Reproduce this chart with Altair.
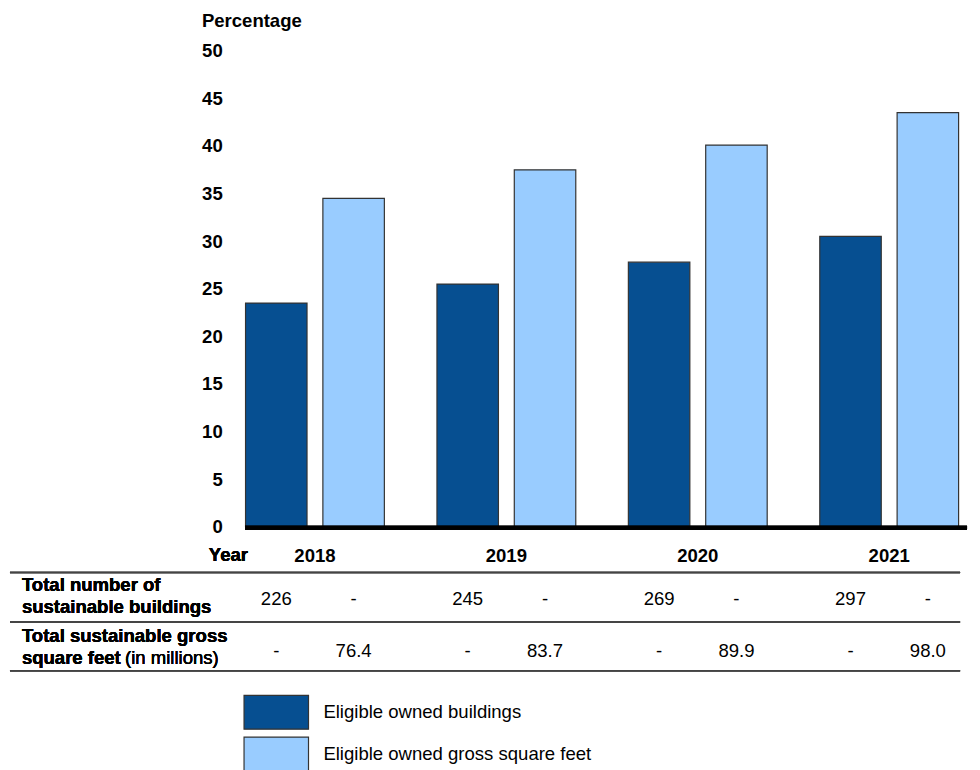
import altair as alt
import pandas as pd

# ---- data ----
years = ["2018", "2019", "2020", "2021"]
series = ["Eligible owned buildings", "Eligible owned gross square feet"]
buildings_pct = [23.5, 25.5, 27.8, 30.5]
sqft_pct = [34.5, 37.5, 40.1, 43.5]
buildings_count = ["226", "245", "269", "297"]
sqft_millions = ["76.4", "83.7", "89.9", "98.0"]
y_ticks = [0, 5, 10, 15, 20, 25, 30, 35, 40, 45, 50]

DARK = "#064f91"
LIGHT = "#99ccff"
FONT = "Liberation Sans"
FS = 18.7

rows = []
for i, yr in enumerate(years):
    rows.append({"year": yr, "series": series[0], "value": buildings_pct[i],
                 "row1": buildings_count[i], "row2": "-"})
    rows.append({"year": yr, "series": series[1], "value": sqft_pct[i],
                 "row1": "-", "row2": sqft_millions[i]})
df = pd.DataFrame(rows)
df_years = pd.DataFrame({"year": years})
df_series = pd.DataFrame({"series": series})

x_enc = alt.X("year:N", sort=years, axis=None,
              scale=alt.Scale(range=[-27, 745], paddingInner=0, paddingOuter=0))
xoff_enc = alt.XOffset("series:N", sort=series,
                       scale=alt.Scale(paddingInner=0.205, paddingOuter=0.34))
color_scale = alt.Scale(domain=series, range=[DARK, LIGHT])

base = alt.Chart(df)

bars = base.mark_bar(stroke="#333333", strokeWidth=1.2).encode(
    x=x_enc,
    xOffset=xoff_enc,
    y=alt.Y("value:Q",
            scale=alt.Scale(domain=[0, 50], nice=False),
            axis=alt.Axis(values=y_ticks, grid=False, domain=False, ticks=False,
                          labelPadding=24, labelFontSize=FS, labelFontWeight="bold",
                          labelFont=FONT, labelColor="black",
                          title="Percentage", titleAngle=0, titleAlign="left",
                          titleBaseline="middle", titleX=-45, titleY=-31,
                          titleFont=FONT, titleFontSize=FS, titleFontWeight="bold",
                          titleColor="black")),
    color=alt.Color("series:N", scale=color_scale, legend=None),
)

baseline = alt.Chart(df_years).mark_rule(color="black", strokeWidth=4).encode(
    x=alt.value(-1), x2=alt.value(727), y=alt.value(481)
)

year_text = alt.Chart(df_years).mark_text(
    font=FONT, fontSize=FS, fontWeight="bold", baseline="middle", color="black"
).encode(x=x_enc, y=alt.value(509), text="year:N")

year_label = alt.Chart(df_years).mark_text(
    font=FONT, fontSize=FS, fontWeight="bold", baseline="middle", align="right",
    color="black"
).encode(x=alt.value(2), y=alt.value(508), text=alt.value("Year"))

row1_vals = base.mark_text(font=FONT, fontSize=FS, baseline="middle", color="black").encode(
    x=x_enc, xOffset=xoff_enc, y=alt.value(553), text="row1:N")
row2_vals = base.mark_text(font=FONT, fontSize=FS, baseline="middle", color="black").encode(
    x=x_enc, xOffset=xoff_enc, y=alt.value(605), text="row2:N")

def label(txt, x, y, weight="bold"):
    return alt.Chart(df_years).mark_text(
        font=FONT, fontSize=FS, fontWeight=weight, baseline="middle", align="left",
        color="black"
    ).encode(x=alt.value(x), y=alt.value(y), text=alt.value(txt))

row_labels = [
    label("Total number of", -226, 539),
    label("sustainable buildings", -226, 561),
    label("Total sustainable gross", -226, 590),
    label("square feet", -226, 612),
    label("(in millions)", -122, 612, weight="normal"),
]

def hline(y):
    return alt.Chart(df_years).mark_rule(color="#444444", strokeWidth=1.5).encode(
        x=alt.value(-238), x2=alt.value(720), y=alt.value(y))

lines = [hline(526), hline(576), hline(625)]

legend_layers = []
for i, (y0, y1, ty) in enumerate([(650, 684, 667), (692, 726, 709)]):
    s = series[i]
    sw = alt.Chart(df_series).transform_filter(alt.datum.series == s).mark_rect(
        stroke="#333333", strokeWidth=1.2
    ).encode(x=alt.value(-2), x2=alt.value(63), y=alt.value(y0), y2=alt.value(y1),
             color=alt.Color("series:N", scale=color_scale, legend=None))
    tx = alt.Chart(df_series).transform_filter(alt.datum.series == s).mark_text(
        font=FONT, fontSize=FS, baseline="middle", align="left", color="black"
    ).encode(x=alt.value(78), y=alt.value(ty), text="series:N")
    legend_layers += [sw, tx]

chart = alt.layer(
    bars, baseline, year_text, year_label, row1_vals, row2_vals,
    *row_labels, *lines, *legend_layers
).properties(
    width=727, height=480,
    padding={"left": 240, "top": 40, "right": 5, "bottom": 242},
    autosize=alt.AutoSizeParams(type="none"),
).configure_view(stroke=None)

chart.save("out.html", embed_options={"renderer": "svg", "actions": False})
